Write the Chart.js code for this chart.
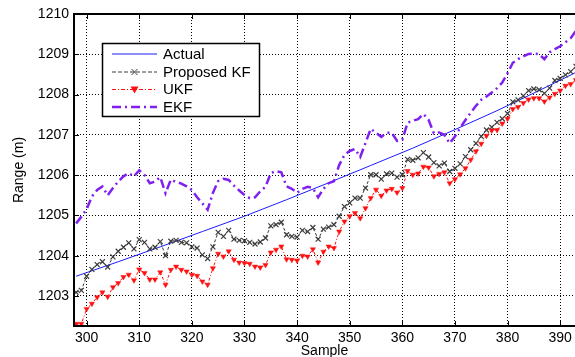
<!DOCTYPE html>
<html>
<head>
<meta charset="utf-8">
<script src="https://cdn.jsdelivr.net/npm/chart.js@4/dist/chart.umd.min.js"></script>
<style>
  html, body { margin: 0; padding: 0; background: #fff; overflow: hidden; }
  canvas { display: block; }
</style>
</head>
<body>
<canvas id="chart" width="590" height="357" style="width:590px;height:357px"></canvas>
<script>
// Sample index (x axis)
const samples = [
  298, 299, 300, 301, 302, 303, 304, 305, 306, 307, 308, 309,
  310, 311, 312, 313, 314, 315, 316, 317, 318, 319,
  320, 321, 322, 323, 324, 325, 326, 327, 328, 329,
  330, 331, 332, 333, 334, 335, 336, 337, 338, 339,
  340, 341, 342, 343, 344, 345, 346, 347, 348, 349,
  350, 351, 352, 353, 354, 355, 356, 357, 358, 359,
  360, 361, 362, 363, 364, 365, 366, 367, 368, 369,
  370, 371, 372, 373, 374, 375, 376, 377, 378, 379,
  380, 381, 382, 383, 384, 385, 386, 387, 388, 389,
  390, 391, 392, 393
];

// True range (m), sampled along the reference trajectory
const actualSamples = [298, 306, 314, 322, 330, 338, 346, 354, 362, 370, 378, 386, 393];
const actualRange = [1203.49, 1203.85, 1204.22, 1204.60, 1204.98, 1205.39, 1205.81,
                     1206.24, 1206.67, 1207.13, 1207.60, 1208.10, 1208.55];

// Proposed KF estimate (m)
const proposedKF = [
  1203.09, 1203.14, 1203.49, 1203.66, 1203.78, 1203.85, 1203.72, 1203.97, 1204.11, 1204.21, 1204.32, 1204.17,
  1204.40, 1204.33, 1204.17, 1204.21, 1204.35, 1204.00, 1204.36, 1204.38, 1204.33, 1204.32,
  1204.22, 1204.19, 1204.02, 1203.93, 1204.22, 1204.58, 1204.48, 1204.63, 1204.41, 1204.38,
  1204.37, 1204.33, 1204.29, 1204.34, 1204.44, 1204.74, 1204.77, 1204.83, 1204.52, 1204.48,
  1204.46, 1204.63, 1204.60, 1204.70, 1204.41, 1204.66, 1204.71, 1204.77, 1204.98, 1205.22,
  1205.31, 1205.43, 1205.43, 1205.68, 1206.01, 1206.01, 1205.90, 1206.03, 1206.05, 1205.95,
  1206.01, 1206.39, 1206.37, 1206.43, 1206.56, 1206.45, 1206.31, 1206.23, 1206.30, 1206.09,
  1206.17, 1206.28, 1206.46, 1206.63, 1206.79, 1206.96, 1207.12, 1207.19, 1207.31, 1207.40,
  1207.53, 1207.82, 1207.87, 1207.97, 1208.10, 1208.14, 1208.12, 1208.03, 1208.16, 1208.35,
  1208.40, 1208.49, 1208.57, 1208.70
];

// UKF estimate (m)
const ukf = [
  1202.31, 1202.31, 1202.68, 1202.81, 1202.97, 1203.09, 1202.98, 1203.22, 1203.32, 1203.47, 1203.53, 1203.39,
  1203.66, 1203.57, 1203.41, 1203.41, 1203.59, 1203.28, 1203.65, 1203.73, 1203.65, 1203.61,
  1203.53, 1203.50, 1203.36, 1203.28, 1203.69, 1204.05, 1203.98, 1204.11, 1203.90, 1203.83,
  1203.82, 1203.80, 1203.73, 1203.71, 1203.77, 1204.08, 1204.15, 1204.23, 1203.91, 1203.90,
  1203.88, 1204.00, 1203.98, 1204.16, 1203.83, 1204.10, 1204.23, 1204.19, 1204.60, 1204.85,
  1204.98, 1205.06, 1204.93, 1205.18, 1205.43, 1205.64, 1205.49, 1205.62, 1205.66, 1205.57,
  1205.68, 1206.10, 1206.01, 1206.04, 1206.21, 1206.19, 1205.97, 1206.03, 1206.07, 1205.80,
  1205.90, 1206.02, 1206.17, 1206.38, 1206.59, 1206.78, 1206.98, 1207.11, 1207.12, 1207.28,
  1207.40, 1207.64, 1207.69, 1207.79, 1207.88, 1207.91, 1207.91, 1207.83, 1207.93, 1208.02,
  1208.10, 1208.22, 1208.26, 1208.36
];

// EKF estimate (m)
const ekf = [
  1204.80, 1204.97, 1205.15, 1205.47, 1205.63, 1205.72, 1205.50, 1205.68, 1205.84, 1205.97, 1206.05, 1205.97,
  1206.12, 1206.00, 1205.80, 1205.84, 1205.95, 1205.55, 1205.89, 1205.83, 1205.79, 1205.72,
  1205.63, 1205.45, 1205.30, 1205.14, 1205.56, 1205.85, 1205.91, 1205.88, 1205.74, 1205.62,
  1205.51, 1205.43, 1205.45, 1205.60, 1205.71, 1206.05, 1206.10, 1206.07, 1205.72, 1205.66,
  1205.56, 1205.66, 1205.71, 1205.68, 1205.45, 1205.66, 1205.80, 1205.85, 1206.25, 1206.50,
  1206.60, 1206.65, 1206.45, 1206.80, 1207.15, 1207.05, 1206.95, 1207.05, 1207.05, 1206.85,
  1206.88, 1207.30, 1207.35, 1207.39, 1207.52, 1207.37, 1207.04, 1207.06, 1207.00, 1206.79,
  1206.96, 1207.17, 1207.37, 1207.55, 1207.72, 1207.87, 1207.95, 1208.05, 1208.16, 1208.30,
  1208.53, 1208.79, 1208.88, 1208.95, 1209.01, 1209.02, 1209.00, 1208.88, 1209.05, 1209.13,
  1209.20, 1209.30, 1209.40, 1209.58
];

// Axis tick labels
const xTicks = [300, 310, 320, 330, 340, 350, 360, 370, 380, 390];
const yTicks = [1203, 1204, 1205, 1206, 1207, 1208, 1209, 1210];

const FONT = "'Liberation Sans', Arial, Helvetica, sans-serif";
const COLORS = { actual: '#1a1aff', pkf: '#3c3c3c', ukf: '#ff1010', ekf: '#8020f0' };

const pairs = (xs, ys) => xs.map((x, i) => ({ x, y: ys[i] }));

// Legend entries (drawn inside the plot, top-left)
const legendEntries = [
  { label: 'Actual',      color: COLORS.actual, width: 1,   dash: [],           marker: null },
  { label: 'Proposed KF', color: COLORS.pkf,    width: 1,   dash: [4, 2],       marker: 'cross' },
  { label: 'UKF',         color: COLORS.ukf,    width: 1.2, dash: [4, 2, 1, 2], marker: 'tri' },
  { label: 'EKF',         color: COLORS.ekf,    width: 2.5, dash: [9, 4, 2, 4], marker: null }
];

function drawMarker(ctx, type, x, y, color) {
  ctx.save();
  ctx.setLineDash([]);
  if (type === 'cross') {
    ctx.strokeStyle = color; ctx.lineWidth = 1;
    ctx.beginPath();
    ctx.moveTo(x - 3, y - 3); ctx.lineTo(x + 3, y + 3);
    ctx.moveTo(x - 3, y + 3); ctx.lineTo(x + 3, y - 3);
    ctx.stroke();
  } else if (type === 'tri') {
    ctx.fillStyle = color;
    ctx.beginPath();
    ctx.moveTo(x - 4, y - 3); ctx.lineTo(x + 4, y - 3); ctx.lineTo(x, y + 4);
    ctx.closePath(); ctx.fill();
  }
  ctx.restore();
}

// Frame, inward tick marks, axis titles and the legend box
const decorations = {
  id: 'decorations',
  afterDatasetsDraw(chart) {
    const { ctx, chartArea: a, scales } = chart;
    ctx.save();
    // inward ticks
    ctx.strokeStyle = '#000'; ctx.lineWidth = 1; ctx.setLineDash([]);
    ctx.beginPath();
    xTicks.forEach(v => {
      const px = Math.round(scales.x.getPixelForValue(v)) + 0.5;
      ctx.moveTo(px, a.bottom); ctx.lineTo(px, a.bottom - 5);
      ctx.moveTo(px, a.top); ctx.lineTo(px, a.top + 5);
    });
    yTicks.forEach(v => {
      const py = Math.round(scales.y.getPixelForValue(v)) + 0.5;
      ctx.moveTo(a.left, py); ctx.lineTo(a.left + 5, py);
    });
    ctx.stroke();
    // axes box
    ctx.lineWidth = 2;
    ctx.strokeRect(a.left, a.top, a.right - a.left, a.bottom - a.top);

    // axis titles
    ctx.fillStyle = '#000';
    ctx.font = '14px ' + FONT;
    ctx.textAlign = 'center'; ctx.textBaseline = 'middle';
    ctx.fillText('Sample', (a.left + 575) / 2, 351);
    ctx.save();
    ctx.translate(19, (a.top + a.bottom) / 2);
    ctx.rotate(-Math.PI / 2);
    ctx.fillText('Range (m)', 0, 0);
    ctx.restore();

    // legend
    const bx = 102.5, by = 43.5, bw = 157, bh = 73;
    ctx.fillStyle = '#fff';
    ctx.fillRect(bx, by, bw, bh);
    ctx.strokeStyle = '#000'; ctx.lineWidth = 1.5;
    ctx.strokeRect(bx, by, bw, bh);
    const rows = [54, 72, 89.5, 107];
    legendEntries.forEach((e, i) => {
      const y = rows[i];
      ctx.save();
      ctx.strokeStyle = e.color; ctx.lineWidth = e.width; ctx.setLineDash(e.dash);
      ctx.beginPath(); ctx.moveTo(112, y); ctx.lineTo(157, y); ctx.stroke();
      ctx.restore();
      if (e.marker) drawMarker(ctx, e.marker, 134.5, y, e.color);
      ctx.fillStyle = '#000';
      ctx.font = '15px ' + FONT;
      ctx.textAlign = 'left'; ctx.textBaseline = 'middle';
      ctx.fillText(e.label, 163, y + 0.5);
    });
    ctx.restore();
  }
};

new Chart(document.getElementById('chart'), {
  type: 'line',
  data: {
    datasets: [
      {
        label: 'Actual', data: pairs(actualSamples, actualRange),
        borderColor: COLORS.actual, borderWidth: 1, pointRadius: 0, order: 4
      },
      {
        label: 'Proposed KF', data: pairs(samples, proposedKF),
        borderColor: COLORS.pkf, borderWidth: 1, borderDash: [3, 2],
        pointStyle: 'crossRot', pointRadius: 3.5, pointBorderColor: COLORS.pkf,
        pointBorderWidth: 1.2, order: 3
      },
      {
        label: 'UKF', data: pairs(samples, ukf),
        borderColor: COLORS.ukf, borderWidth: 1, borderDash: [3, 2, 1, 2],
        pointStyle: 'triangle', pointRotation: 180, pointRadius: 3,
        pointBackgroundColor: COLORS.ukf, pointBorderColor: COLORS.ukf,
        pointBorderWidth: 0.5, order: 2
      },
      {
        label: 'EKF', data: pairs(samples, ekf),
        borderColor: COLORS.ekf, borderWidth: 2.5, borderDash: [9, 4, 2, 4],
        pointRadius: 0, order: 1
      }
    ]
  },
  options: {
    responsive: false,
    animation: false,
    devicePixelRatio: 1,
    layout: { padding: { left: 0, top: 14, right: 13, bottom: 0 } },
    elements: { line: { tension: 0 } },
    plugins: { legend: { display: false }, tooltip: { enabled: false } },
    scales: {
      x: {
        type: 'linear', min: 297.6, max: 393.2,
        afterBuildTicks: s => { s.ticks = xTicks.map(v => ({ value: v })); },
        afterFit: s => { s.height = 31; },
        grid: { color: '#000', lineWidth: 1, drawTicks: false },
        border: { display: false, dash: [1, 2] },
        ticks: { color: '#000', font: { family: FONT, size: 14 }, padding: 4, maxRotation: 0,
                 callback: v => String(v) }
      },
      y: {
        type: 'linear', min: 1202.255, max: 1210,
        afterBuildTicks: s => { s.ticks = yTicks.map(v => ({ value: v })); },
        afterFit: s => { s.width = 74; },
        grid: { color: '#000', lineWidth: 1, drawTicks: false },
        border: { display: false, dash: [1, 2] },
        ticks: { color: '#000', font: { family: FONT, size: 14 }, padding: 5,
                 callback: v => String(v) }
      }
    }
  },
  plugins: [decorations]
});
</script>
</body>
</html>
